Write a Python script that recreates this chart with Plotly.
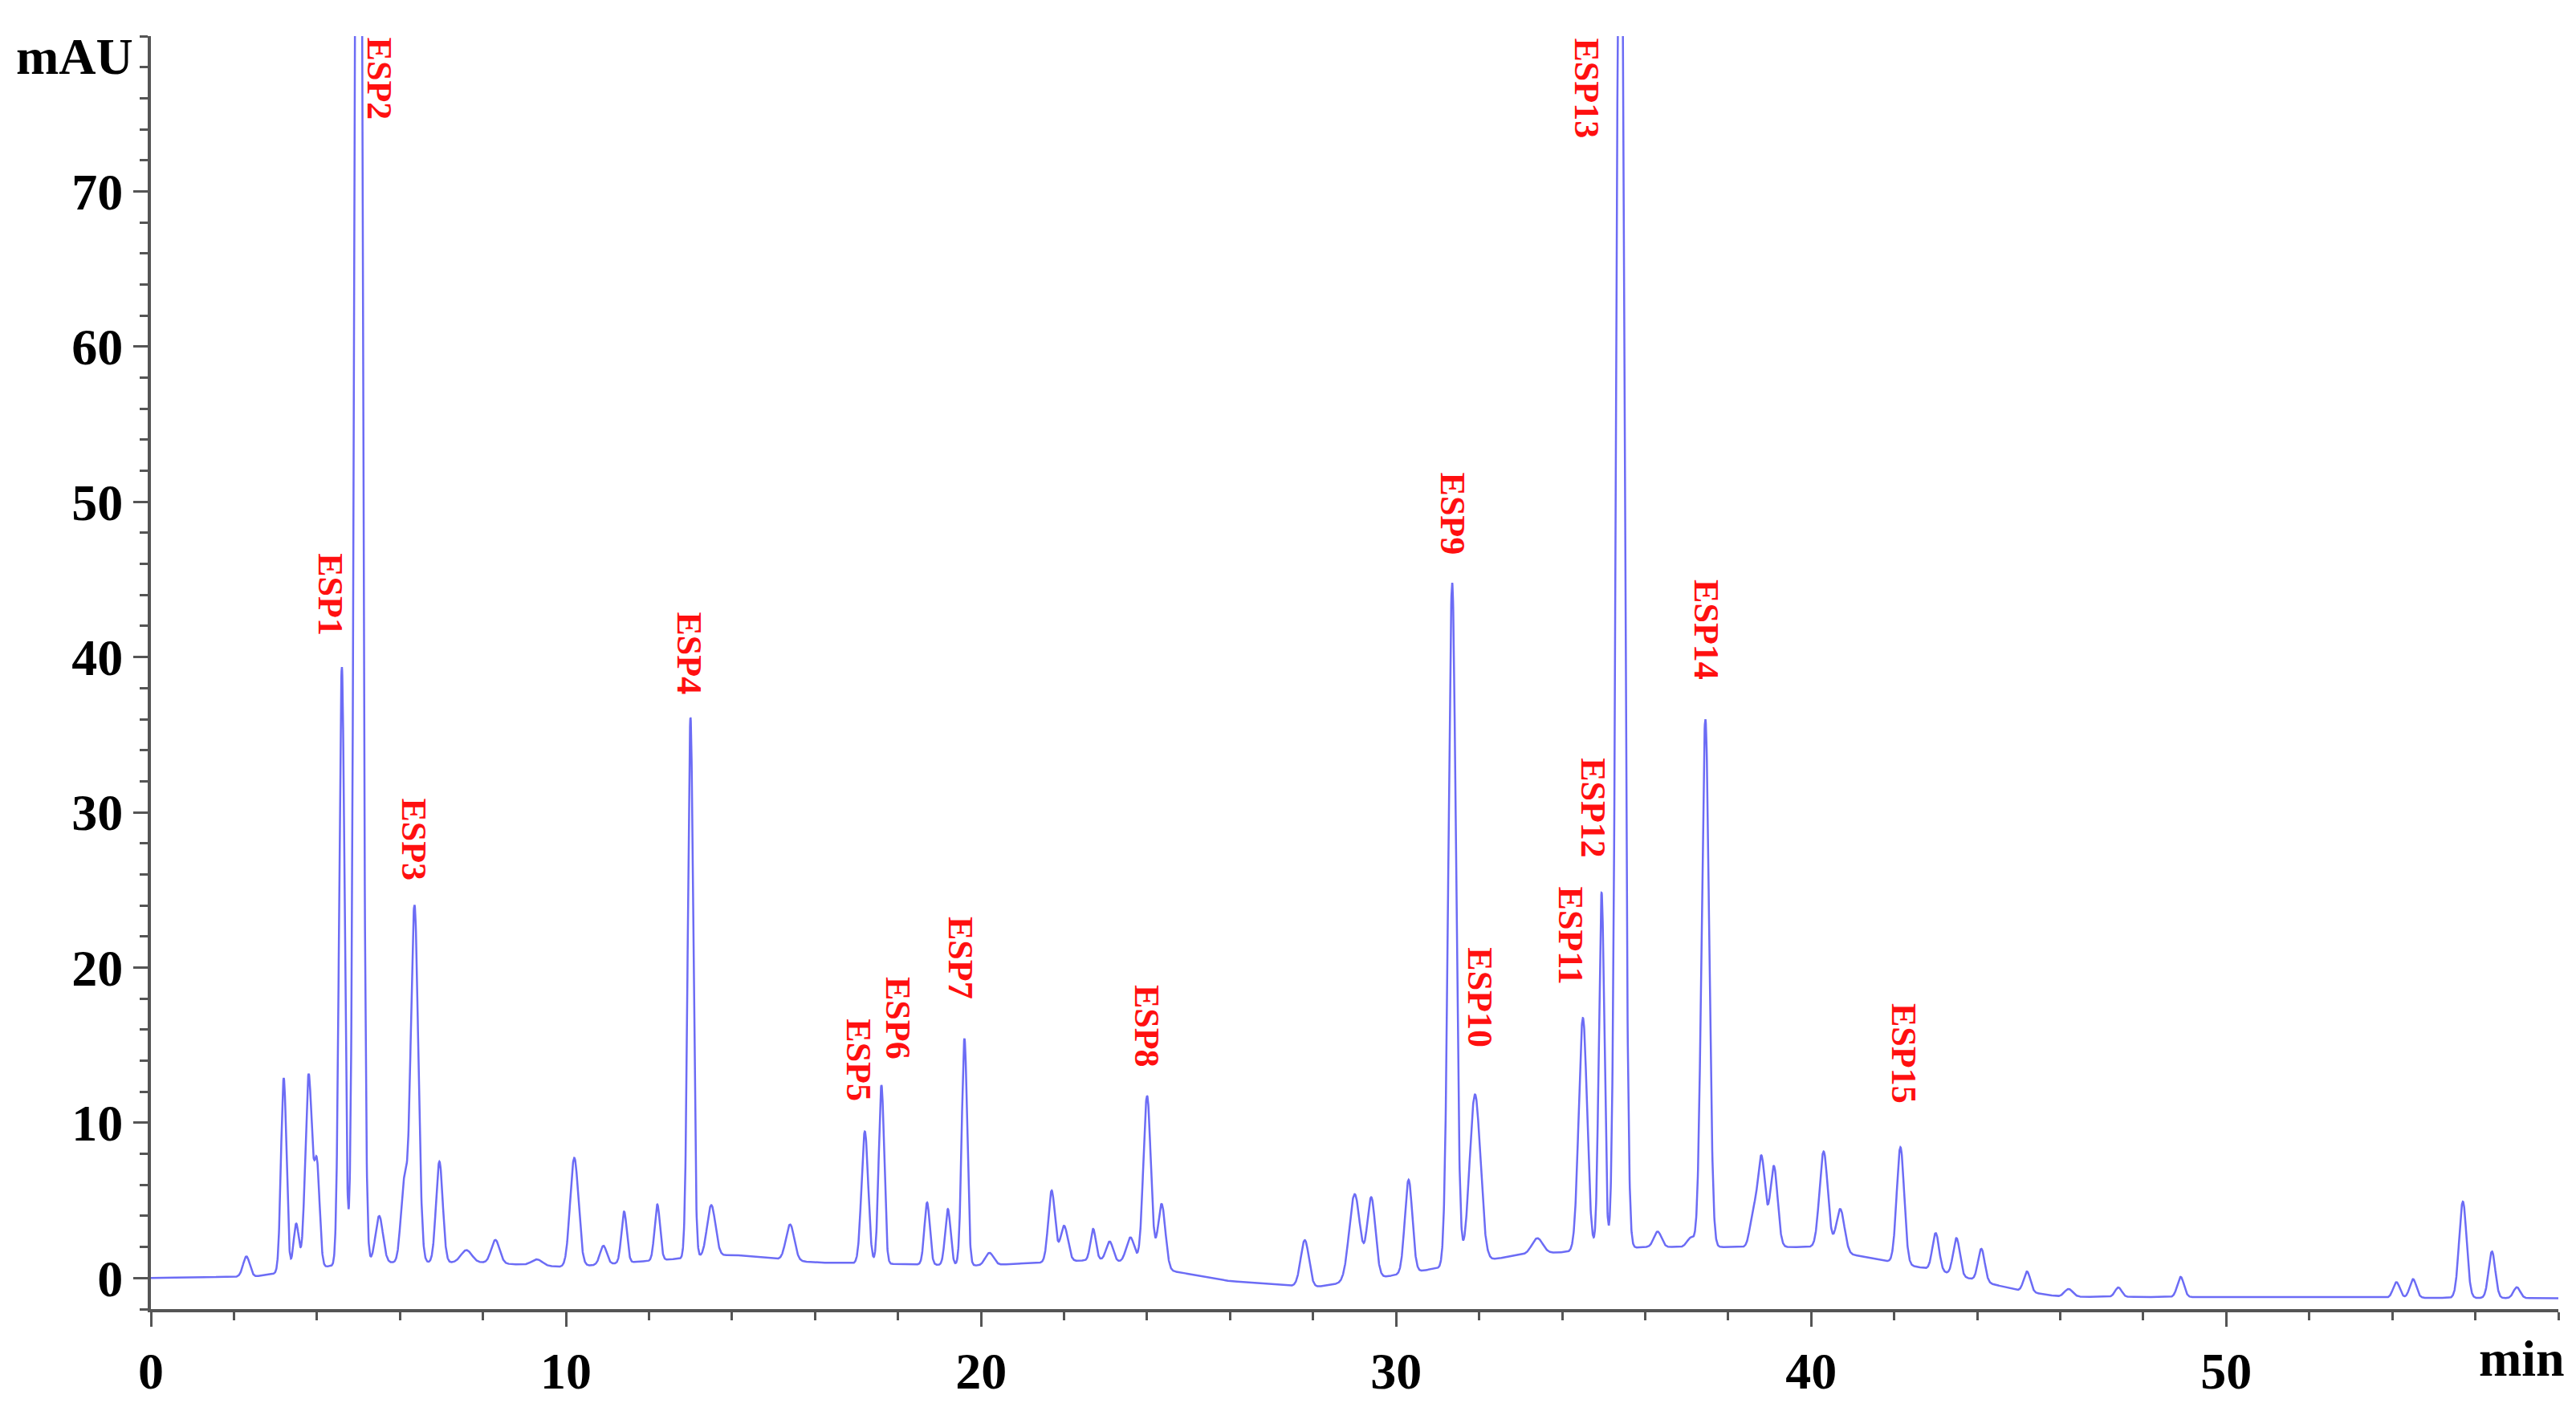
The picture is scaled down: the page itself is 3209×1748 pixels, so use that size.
import numpy as np
import plotly.graph_objects as go

# Peaks: retention time (min), height above baseline (mAU), width sigma (min)
peak_t = [2.3, 3.2, 3.5, 3.8, 4.0, 4.6, 5.0, 5.5, 6.1, 6.35, 6.95, 7.6, 8.3, 9.3, 10.2, 10.9, 11.4, 12.2,
          13.0, 13.5, 15.4, 17.2, 17.6, 18.7, 19.2, 19.6, 20.2, 21.7, 22.0, 22.7, 23.1, 23.6, 24.0, 24.35,
          27.8, 29.0, 29.4, 30.3, 31.35, 31.9, 33.4, 34.5, 34.95, 35.4, 36.3, 37.1, 37.45, 38.6, 38.8, 39.1,
          40.3, 40.7, 42.15, 43.0, 43.5, 44.1, 45.2, 46.2, 47.4, 48.9, 54.1, 54.5, 55.7, 56.4, 57.0]
peak_h = [1.3, 12.5, 3.0, 12.5, 6.5, 38.5, 150, 3.0, 5.0, 23.0, 6.5, 0.8, 1.5, 0.4, 7.0, 1.2, 3.3, 3.6,
          34.8, 3.3, 2.3, 8.5, 11.5, 4.0, 3.6, 14.6, 0.8, 4.6, 2.3, 2.0, 1.2, 1.7, 11.0, 4.2,
          3.0, 5.6, 5.2, 6.0, 44.0, 10.8, 1.0, 15.0, 23.0, 100, 1.0, 0.6, 34.0, 2.0, 5.8, 5.2,
          6.3, 2.8, 7.5, 2.4, 2.4, 2.1, 1.3, 0.5, 0.6, 1.3, 1.0, 1.2, 6.2, 3.0, 0.7]
peak_w = [0.08, 0.065, 0.065, 0.08, 0.065, 0.065, 0.08, 0.09, 0.08, 0.09, 0.08, 0.13, 0.1, 0.13, 0.1, 0.08, 0.065, 0.065,
          0.065, 0.1, 0.1, 0.08, 0.065, 0.065, 0.065, 0.065, 0.1, 0.08, 0.09, 0.065, 0.08, 0.1, 0.09, 0.09,
          0.1, 0.13, 0.1, 0.09, 0.09, 0.13, 0.13, 0.1, 0.065, 0.09, 0.09, 0.09, 0.09, 0.08, 0.09, 0.09,
          0.1, 0.1, 0.09, 0.08, 0.08, 0.08, 0.08, 0.1, 0.08, 0.08, 0.08, 0.08, 0.09, 0.08, 0.08]

# Baseline levels read at selected times
base_t = [0, 2.5, 3.5, 5, 8, 10, 14, 16, 20, 23, 26, 28, 30, 33, 36, 40, 43, 45, 46, 58]
base_v = [0.0, 0.1, 0.5, 1.0, 1.0, 0.7, 1.5, 1.0, 0.8, 1.2, -0.2, -0.6, 0.2, 1.5, 2.0, 2.0, 0.5, -0.8, -1.2, -1.3]

labels = ["ESP1", "ESP2", "ESP3", "ESP4", "ESP5", "ESP6", "ESP7", "ESP8", "ESP9", "ESP10",
          "ESP11", "ESP12", "ESP13", "ESP14", "ESP15"]
label_t = [4.32, 5.51, 6.34, 12.97, 17.05, 18.0, 19.5, 23.99, 31.36, 32.0, 34.2, 34.73, 34.58, 37.47, 42.23]
label_y = [46.8, 80, 31, 43, 16.8, 19.5, 23.4, 19, 52, 21.4, 25.3, 33.6, 80, 45.1, 17.8]

t = np.linspace(0, 58, 12000)
y = np.interp(t, base_t, base_v)
for c, h, w in zip(peak_t, peak_h, peak_w):
    y = y + h * np.exp(-0.5 * ((t - c) / w) ** 2)

fig = go.Figure(go.Scatter(x=t, y=y, mode="lines", line=dict(color="#6c6cf5", width=2.5), hoverinfo="skip"))

for lab, lt, ly in zip(labels, label_t, label_y):
    fig.add_annotation(x=lt, y=ly, xref="x", yref="y", text=lab, showarrow=False, textangle=90,
                       xanchor="center", yanchor="top",
                       font=dict(family="Liberation Serif", size=44, color="#ff1010", weight="bold"))

font_ax = dict(family="Liberation Serif", size=64, color="black", weight="bold")
common = dict(ticks="outside", ticklen=18, tickwidth=3, tickcolor="#555", showline=True, linecolor="#555",
              linewidth=4, showgrid=False, zeroline=False, tickfont=font_ax,
              minor=dict(dtick=2, ticks="outside", ticklen=10, tickwidth=3, tickcolor="#555"))
fig.update_xaxes(range=[0, 58], tickvals=[0, 10, 20, 30, 40, 50], **common)
fig.update_yaxes(range=[-2, 80], tickvals=[0, 10, 20, 30, 40, 50, 60, 70], **common)

fig.add_annotation(x=0, y=1, xref="paper", yref="paper", text="mAU", showarrow=False,
                   xanchor="right", yanchor="top", xshift=-20, yshift=12, font=font_ax)
fig.add_annotation(x=1, y=0, xref="paper", yref="paper", text="min", showarrow=False,
                   xanchor="right", yanchor="top", yshift=-24, xshift=10, font=font_ax)

fig.update_layout(width=3209, height=1748, margin=dict(l=180, r=30, t=37, b=94),
                  plot_bgcolor="white", paper_bgcolor="white", showlegend=False,
                  font=dict(family="Liberation Serif"))
fig.write_html("out.html")
